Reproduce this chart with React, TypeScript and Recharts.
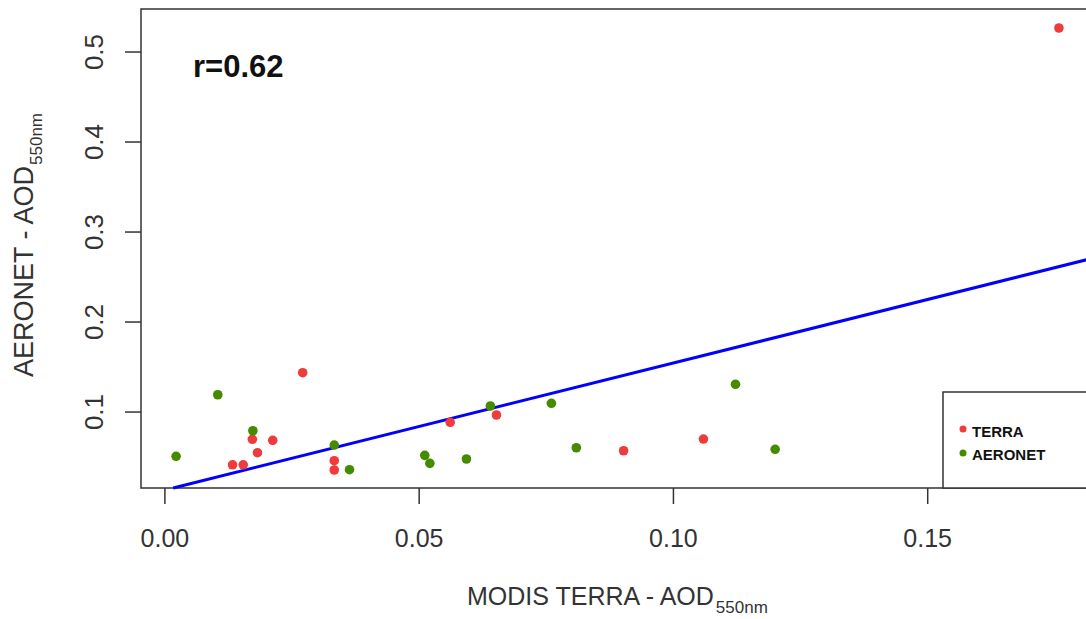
import React from 'react';
import {
  ScatterChart,
  Scatter,
  XAxis,
  YAxis,
  ReferenceLine,
  ReferenceArea,
} from 'recharts';

// values (MODIS x, AERONET y)
const terraX = [0.0271, 0.0172, 0.0212, 0.0182, 0.0133, 0.0154, 0.0333, 0.0333, 0.0561, 0.0652, 0.0902, 0.1059, 0.1758];
const terraY = [0.1437, 0.0697, 0.0686, 0.0548, 0.0414, 0.0414, 0.0459, 0.0356, 0.0886, 0.0967, 0.057, 0.07, 0.5267];
const aeronetX = [0.0022, 0.0104, 0.0173, 0.0333, 0.0363, 0.0511, 0.0521, 0.0593, 0.064, 0.076, 0.0809, 0.1122, 0.12];
const aeronetY = [0.0508, 0.1192, 0.0792, 0.0633, 0.0359, 0.0519, 0.043, 0.0478, 0.1067, 0.1097, 0.0603, 0.1308, 0.0586];

const xTicks = [0, 0.05, 0.1, 0.15];
const yTicks = [0.1, 0.2, 0.3, 0.4, 0.5];
const xDomain: [number, number] = [-0.0047, 0.1827];
const yDomain: [number, number] = [0.0156, 0.5478];

// fitted line y = a + b*x
const fitA = 0.0133;
const fitB = 1.412;
const rLabel = 'r=0.62';
const seriesNames = ['TERRA', 'AERONET'];

const terraData = terraX.map((x, i) => ({ x, y: terraY[i] }));
const aeronetData = aeronetX.map((x, i) => ({ x, y: aeronetY[i] }));

const fitStart = (yDomain[0] - fitA) / fitB;
const fitSegment = [
  { x: fitStart, y: fitA + fitB * fitStart },
  { x: xDomain[1], y: fitA + fitB * xDomain[1] },
];

const RED = '#EE3B3B';
const GREEN = '#458B00';
const FONT = '"Liberation Sans", Arial, sans-serif';

const dot = (color: string) => (p: any) => <circle cx={p.cx} cy={p.cy} r={4.8} fill={color} />;

const XTick = (props: any) => {
  const { x, y, payload } = props;
  return (
    <text x={x} y={y + 41} textAnchor="middle" fontSize={25} fill="#333" fontFamily={FONT}>
      {Number(payload.value).toFixed(2)}
    </text>
  );
};

const YTick = (props: any) => {
  const { x, y, payload } = props;
  const bx = x - 20;
  return (
    <text
      x={bx}
      y={y}
      transform={`rotate(-90, ${bx}, ${y})`}
      textAnchor="middle"
      fontSize={26}
      fill="#333"
      fontFamily={FONT}
    >
      {Number(payload.value).toFixed(1)}
    </text>
  );
};

export default function App() {
  return (
    <div style={{ position: 'absolute', left: 0, top: 0, width: 1086, height: 619, overflow: 'hidden', background: '#fff' }}>
      <ScatterChart width={1100} height={619} margin={{ top: 9, right: 6, left: 0, bottom: 0 }}>
        <XAxis
          type="number"
          dataKey="x"
          domain={xDomain}
          ticks={xTicks}
          allowDataOverflow
          height={131}
          axisLine={false}
          tickLine={{ stroke: '#333', strokeWidth: 1.5 }}
          tickSize={16}
          tickMargin={2}
          tick={<XTick />}
          interval={0}
        />
        <YAxis
          type="number"
          dataKey="y"
          domain={yDomain}
          ticks={yTicks}
          allowDataOverflow
          width={141}
          axisLine={false}
          tickLine={{ stroke: '#333', strokeWidth: 1.5 }}
          tickSize={16}
          tickMargin={2}
          tick={<YTick />}
          interval={0}
        />
        <ReferenceArea
          x1={xDomain[0]}
          x2={xDomain[1]}
          y1={yDomain[0]}
          y2={yDomain[1]}
          fill="none"
          fillOpacity={0}
          stroke="#333"
          strokeWidth={1.5}
          ifOverflow="visible"
        />
        <Scatter name={seriesNames[0]} data={terraData} fill={RED} shape={dot(RED)} isAnimationActive={false} />
        <Scatter name={seriesNames[1]} data={aeronetData} fill={GREEN} shape={dot(GREEN)} isAnimationActive={false} />
        <ReferenceLine segment={fitSegment} stroke="#0000FF" strokeWidth={3} ifOverflow="visible" />
      </ScatterChart>
      <svg
        width={1086}
        height={619}
        style={{ position: 'absolute', left: 0, top: 0, pointerEvents: 'none' }}
      >
        <text x={193} y={77} fontSize={31} fontWeight="bold" fill="#111" fontFamily={FONT}>{rLabel}</text>
        <text x={467} y={605} fontSize={25} fill="#333" fontFamily={FONT}>
          MODIS TERRA - AOD
          <tspan dy={8} dx={2} fontSize={17}>550nm</tspan>
        </text>
        <text transform="translate(33, 377) rotate(-90)" x={0} y={0} fontSize={27} fill="#333" fontFamily={FONT}>
          AERONET - AOD
          <tspan dy={9} dx={1} fontSize={17}>550nm</tspan>
        </text>
        <g>
          <rect x={943} y={392} width={200} height={96} fill="#fff" stroke="#333" strokeWidth={1.5} />
          <circle cx={963} cy={429} r={3.5} fill={RED} />
          <text x={972} y={437} fontSize={15} fontWeight="bold" fill="#111" fontFamily={FONT}>{seriesNames[0]}</text>
          <circle cx={963} cy={453} r={3.5} fill={GREEN} />
          <text x={972} y={460} fontSize={15} fontWeight="bold" fill="#111" fontFamily={FONT}>{seriesNames[1]}</text>
        </g>
      </svg>
    </div>
  );
}
